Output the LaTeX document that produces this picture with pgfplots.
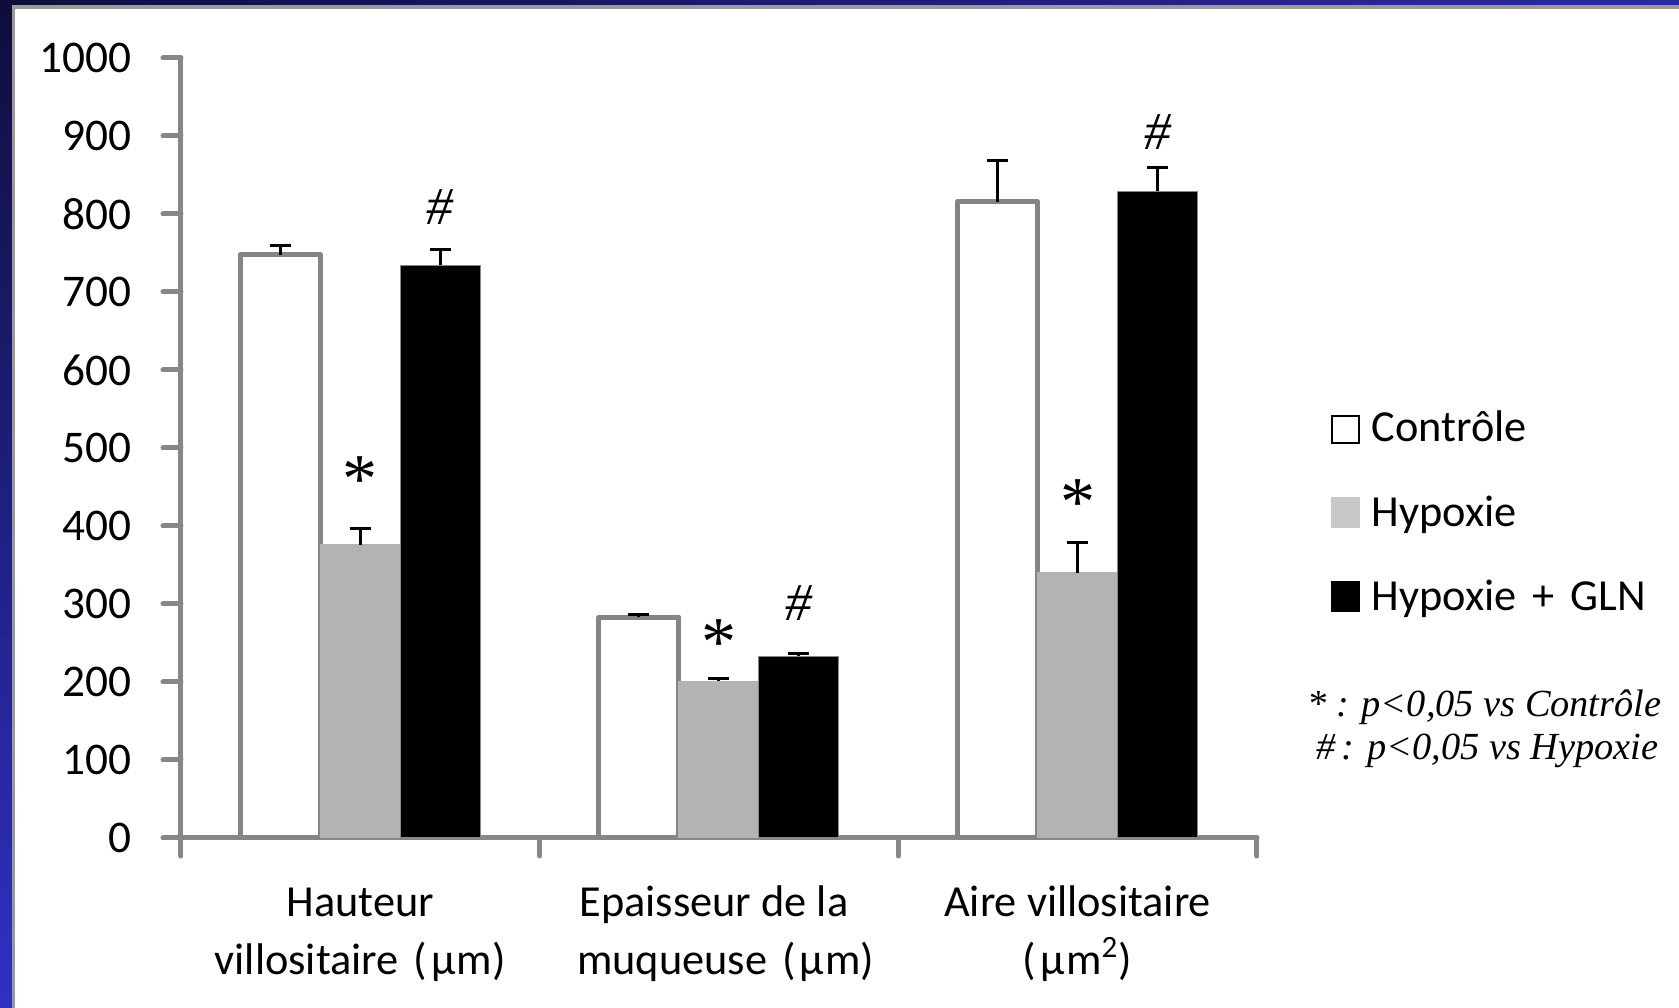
\documentclass[border=0pt]{standalone}
\usepackage{pgfplots}
\pgfplotsset{compat=1.18}
\usepackage{fontspec}
\setmainfont{Carlito}
\newfontfamily\tnr{Liberation Serif}

\definecolor{axgray}{HTML}{878787}
\definecolor{ctrledge}{HTML}{858585}
\definecolor{hypgray}{HTML}{B3B3B3}
\definecolor{hyplegend}{HTML}{C8C8C8}
\definecolor{framedark}{HTML}{0E0E3C}
\definecolor{frameblue}{HTML}{3030C4}
\definecolor{frametop}{HTML}{2A2AA6}
\definecolor{frameline}{HTML}{9A9A9A}

% value, upper error
\pgfplotstableread{
x y err
0 748 12
1 283 3
2 816 52
}\controle
\pgfplotstableread{
x y err
0 376 21
1 201 3
2 340 39
}\hypoxie
\pgfplotstableread{
x y err
0 734 21
1 233 3
2 829 30
}\hypogln

\newcommand\lbl{\fontsize{13.3}{16}\selectfont}
\newcommand\tlbl{\fontsize{13.6}{16}\selectfont}
\newcommand\mum{\kern1.2ptµ\kern0.4ptm}

\begin{document}
\begin{tikzpicture}
% slide frame
\fill[white] (0,0) rectangle (503.7pt,302.4pt);
\shade[top color=framedark, bottom color=frameblue] (0,0) rectangle (3.6pt,302.4pt);
\shade[left color=framedark, right color=frametop] (0,300.9pt) rectangle (503.7pt,302.4pt);
\fill[frameline] (3.6pt,0) rectangle (4.5pt,300.9pt);
\fill[frameline] (3.6pt,299.7pt) rectangle (503.7pt,300.9pt);

\begin{axis}[
  at={(54.3pt,51pt)}, anchor=south west,
  scale only axis, width=322.8pt, height=234pt,
  xmin=-0.5, xmax=2.5, ymin=0, ymax=1000,
  axis x line*=bottom, axis y line*=left,
  axis line style={axgray, line width=1.5pt, line cap=round},
  xtick={-0.5,0.5,1.5,2.5}, xticklabels={},
  ytick={0,100,...,1000},
  tick align=outside,
  major tick length=5.4pt,
  tick style={axgray, line width=1.5pt, line cap=round},
  yticklabel style={font=\tlbl, anchor=east, xshift=-6pt},
  /pgf/number format/.cd, 1000 sep={}, assume math mode=true, /pgfplots/.cd,
  ybar=0pt, bar width=24pt,
  clip=false,
  error bars/y dir=plus, error bars/y explicit,
  error bars/error bar style={black, line width=0.9pt},
  error bars/error mark options={black, line width=0.9pt, mark size=3.15pt, rotate=90},
]
\addplot[fill=white, draw=ctrledge, line width=1.5pt, line join=round]
  table[x=x, y=y, y error=err] {\controle};
\addplot[fill=hypgray, draw=hypgray, line width=0.3pt]
  table[x=x, y=y, y error=err] {\hypoxie};
\addplot[fill=black, draw=axgray, line width=0.3pt]
  table[x=x, y=y, y error=err] {\hypogln};

% significance marks
\begin{scope}[every node/.style={inner sep=0pt}]
\node[font=\tnr\fontsize{21}{21}\selectfont, yshift=-2.8pt] at (axis cs:0,471) {*};
\node[font=\tnr\fontsize{21}{21}\selectfont, yshift=-2.8pt] at (axis cs:1,263) {*};
\node[font=\tnr\fontsize{21}{21}\selectfont, yshift=-2.8pt] at (axis cs:2,442) {*};
\node[font=\tnr\itshape\fontsize{16}{16}\selectfont] at (axis cs:0.223,809) {\#};
\node[font=\tnr\itshape\fontsize{16}{16}\selectfont] at (axis cs:1.223,301) {\#};
\node[font=\tnr\itshape\fontsize{16}{16}\selectfont] at (axis cs:2.223,905) {\#};
\end{scope}

% category labels
\begin{scope}[every node/.style={font=\lbl, anchor=base, inner sep=0pt}]
\node[yshift=-23.7pt] at (axis cs:0,0) {Hauteur};
\node[yshift=-41.1pt] at (axis cs:0,0) {villositaire\hspace{1.5pt} (\mum)};
\node[yshift=-23.7pt, xshift=-1.5pt] at (axis cs:1,0) {Epaisseur de la};
\node[yshift=-41.1pt, xshift=2pt] at (axis cs:1,0) {muqueuse\hspace{1.5pt} (\mum)};
\node[yshift=-23.7pt] at (axis cs:2,0) {Aire villositaire};
\node[yshift=-41.1pt] at (axis cs:2,0) {(\mum\textsuperscript{2})};
\end{scope}
\end{axis}

% legend
\draw[black, line width=0.5pt] (399.6pt,169.5pt) rectangle (407.7pt,177.6pt);
\fill[hyplegend] (399.3pt,144.0pt) rectangle (408.0pt,153.3pt);
\fill[black] (399.3pt,118.8pt) rectangle (408.0pt,128.1pt);
\begin{scope}[every node/.style={font=\lbl, anchor=base west, inner sep=0pt}]
\node at (411.3pt,169.8pt) {Contrôle};
\node at (411.3pt,144.3pt) {Hypoxie};
\node at (411.3pt,119.1pt) {Hypoxie\hspace{1.8pt} +\hspace{1.8pt} GLN};
\end{scope}

% footnote
\begin{scope}[every node/.style={font=\tnr\itshape\fontsize{11.5}{13}\selectfont, anchor=base east, inner sep=0pt}]
\node at (498.6pt,87.3pt) {* : p<0,05 vs Contrôle};
\node at (497.7pt,74.4pt) {\#\,: p<0,05 vs Hypoxie};
\end{scope}

\pgfresetboundingbox
\useasboundingbox (0,0) rectangle (503.7pt,302.4pt);
\end{tikzpicture}
\end{document}
